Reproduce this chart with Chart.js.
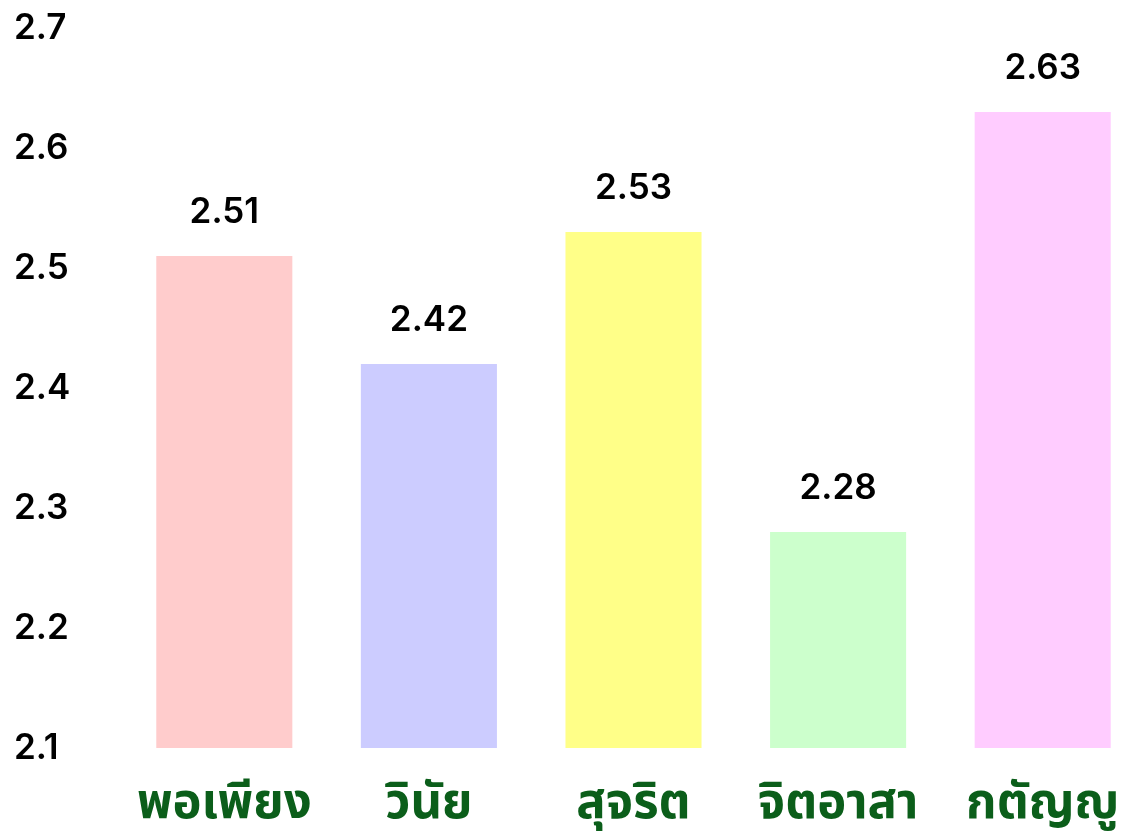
<!DOCTYPE html>
<html>
<head>
    <meta charset="utf-8">
    <title>bar</title>
    <script src="https://cdn.jsdelivr.net/npm/chart.js@4.4.1/dist/chart.umd.min.js"></script>
    <style>
        html, body { margin: 0; padding: 0; background: #fff; overflow: hidden; }
        #wrap { width: 1145px; height: 834px; }
    </style>
</head>
<body>
<div id="wrap"><canvas id="myChart" width="1145" height="834"></canvas></div>

<script>
    // ค่าเฉลี่ยแต่ละด้าน
    const labels = ["พอเพียง", "วินัย", "สุจริต", "จิตอาสา", "กตัญญู"];
    const values = [2.51, 2.42, 2.53, 2.28, 2.63];
    const barColors = ["#FFCCCC", "#CCCCFF", "#FFFF88", "#CCFFCC", "#FFCCFF"];
    const yTicks = [2.1, 2.2, 2.3, 2.4, 2.5, 2.6, 2.7];

    const numFont = {family: "Inter, 'Liberation Sans', sans-serif", size: 35, weight: 600};

    // วาดตัวเลขบนแท่ง
    const valueLabels = {
        id: "valueLabels",
        afterDatasetsDraw(chart) {
            let ctx = chart.ctx;
            let meta = chart.getDatasetMeta(0);
            ctx.save();
            ctx.font = numFont.weight + " " + numFont.size + "px " + numFont.family;
            ctx.fillStyle = "#000";
            ctx.textAlign = "center";
            ctx.textBaseline = "alphabetic";
            meta.data.forEach(function (bar, i) {
                ctx.fillText(values[i].toFixed(2), bar.x, bar.y - 33);
            });
            ctx.restore();
        }
    };

    new Chart(document.getElementById("myChart"), {
        type: "bar",
        data: {
            labels: labels,
            datasets: [{
                data: values,
                backgroundColor: barColors,
                borderWidth: 0,
                barPercentage: 0.665,
                categoryPercentage: 1
            }]
        },
        options: {
            responsive: false,
            animation: false,
            layout: {padding: {top: 28, left: 14, right: 0, bottom: 0}},
            plugins: {legend: {display: false}, tooltip: {enabled: false}},
            scales: {
                x: {
                    grid: {display: false},
                    border: {display: false},
                    ticks: {
                        color: "#0B5E1A",
                        padding: 23,
                        font: {family: "Thonburi, 'Noto Sans Thai', Loma, Garuda, sans-serif", size: 49, weight: "bold"}
                    },
                    afterFit: function (s) { s.height = 86; }
                },
                y: {
                    min: 2.1,
                    max: 2.7,
                    afterBuildTicks: function (s) { s.ticks = yTicks.map(v => ({value: v})); },
                    grid: {display: false},
                    border: {display: false},
                    ticks: {
                        color: "#000",
                        crossAlign: "far",
                        font: numFont,
                        callback: v => v.toFixed(1)
                    },
                    afterFit: function (s) { s.width = 108; }
                }
            }
        },
        plugins: [valueLabels]
    });
</script>
</body>
</html>
